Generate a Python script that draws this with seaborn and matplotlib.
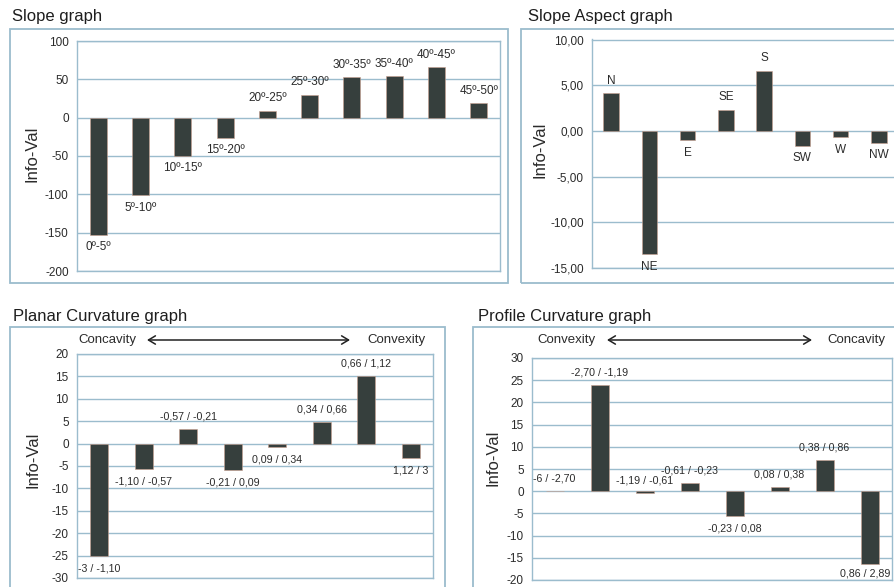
import seaborn as sns
import matplotlib.pyplot as plt
from matplotlib.patches import Rectangle

# Info-Val per class
slope_classes = ['0º-5º', '5º-10º', '10º-15º', '15º-20º', '20º-25º',
                 '25º-30º', '30º-35º', '35º-40º', '40º-45º', '45º-50º']
slope_infoval = [-153, -101, -50, -26, 9, 30, 53, 54, 66, 19]

aspect_classes = ['N', 'NE', 'E', 'SE', 'S', 'SW', 'W', 'NW']
aspect_infoval = [4.1, -13.5, -1.0, 2.3, 6.6, -1.6, -0.7, -1.3]

planar_classes = ['-3 / -1,10', '-1,10 / -0,57', '-0,57 / -0,21', '-0,21 / 0,09',
                  '0,09 / 0,34', '0,34 / 0,66', '0,66 / 1,12', '1,12 / 3']
planar_infoval = [-25, -5.7, 3.2, -6.0, -0.75, 4.8, 15.0, -3.2]

profile_classes = ['-6 / -2,70', '-2,70 / -1,19', '-1,19 / -0,61', '-0,61 / -0,23',
                   '-0,23 / 0,08', '0,08 / 0,38', '0,38 / 0,86', '0,86 / 2,89']
profile_infoval = [0, 23.9, -0.4, 1.9, -5.6, 1.0, 7.1, -16.3]
profile_label_up = [True, True, True, True, False, True, True, False]

W, H = 894, 587
BAR = '#363f3d'
GRID = '#9bbccd'
TXT = '#2b2b2b'

sns.set_style('white')
plt.rcParams['font.family'] = ['Liberation Sans', 'DejaVu Sans']
plt.rcParams['axes.unicode_minus'] = False

fig = plt.figure(figsize=(W / 100, H / 100), dpi=100)


def fx(x):
    return x / W


def fy(y):
    return 1 - y / H


def box(x0, y0, x1, y1):
    fig.add_artist(Rectangle((fx(x0), fy(y1)), fx(x1) - fx(x0), fy(y0) - fy(y1),
                             transform=fig.transFigure, fill=False, ec=GRID, lw=1.3))


def panel(left, top, right, bottom, classes, values, ylim, step, fmt,
          lab_size, up=None):
    ax = fig.add_axes([fx(left), fy(bottom), fx(right) - fx(left), fy(top) - fy(bottom)])
    sns.barplot(x=classes, y=values, color=BAR, width=0.4, saturation=1,
                edgecolor='#c9a08f', linewidth=0.4, ax=ax)
    ax.set_xlim(-0.5, len(classes) - 0.5)
    ax.set_ylim(*ylim)
    ticks = list(range(ylim[0], ylim[1] + 1, step))
    ax.set_yticks(ticks)
    ax.set_yticklabels([fmt(t) for t in ticks])
    ax.set_xticks([])
    ax.set_xlabel('')
    ax.set_ylabel('')
    ax.yaxis.grid(True, color=GRID, lw=1)
    ax.set_axisbelow(True)
    for s in ax.spines.values():
        s.set_color(GRID)
        s.set_linewidth(1)
    ax.tick_params(axis='y', length=4, color=GRID, labelsize=8.5,
                   labelcolor=TXT, pad=2)
    labels = []
    for i, (c, v) in enumerate(zip(classes, values)):
        above = (v >= 0) if up is None else up[i]
        labels.append(ax.annotate(c, xy=(i, v), xytext=(0, 9 if above else -9),
                                  textcoords='offset points', ha='center', va='center',
                                  fontsize=lab_size, color=TXT))
    return ax, labels


# outer frames
box(10, 29, 508, 283)
box(521, 29, 900, 283)
box(10, 327, 445, 600)
box(473, 327, 900, 600)

panel(77, 41, 500, 271, slope_classes, slope_infoval, (-200, 100), 50,
      lambda t: f'{t}', 8.5)
panel(592, 39.5, 898, 268, aspect_classes, aspect_infoval, (-15, 10), 5,
      lambda t: f'{t},00', 8.5)
panel(77, 354, 433, 578, planar_classes, planar_infoval, (-30, 20), 5,
      lambda t: f'{t}', 7.7)
_, prof_labels = panel(532, 358, 892, 580, profile_classes, profile_infoval, (-20, 30), 5,
                       lambda t: f'{t}', 7.7, up=profile_label_up)
# last label sits right at the image edge; nudge it inside
prof_labels[-1].xyann = (-3, -7)

# titles
for x, y, t in [(12, 17, 'Slope graph'), (528, 16, 'Slope Aspect graph'),
                (13, 316, 'Planar Curvature graph'), (478, 316, 'Profile Curvature graph')]:
    fig.text(fx(x), fy(y), t, ha='left', va='center', fontsize=12, color='#1e1e1e')

# y-axis labels
for x, y in [(32, 154), (540, 150), (33, 460), (493, 458)]:
    fig.text(fx(x), fy(y), 'Info-Val', rotation=90, ha='center', va='center',
             fontsize=12, color=TXT)

# concavity / convexity arrows
for l_txt, x_l, a0, a1, r_txt, x_r in [('Concavity', 78, 147, 350, 'Convexity', 367),
                                       ('Convexity', 537, 607, 812, 'Concavity', 827)]:
    fig.text(fx(x_l), fy(340), l_txt, ha='left', va='center', fontsize=9.5, color=TXT)
    fig.text(fx(x_r), fy(340), r_txt, ha='left', va='center', fontsize=9.5, color=TXT)
    fig.add_artist(plt.Annotation('', xy=(fx(a1), fy(340)), xytext=(fx(a0), fy(340)),
                                  xycoords='figure fraction', textcoords='figure fraction',
                                  arrowprops=dict(arrowstyle='<->,head_length=0.5,head_width=0.3',
                                                  color='#222222', lw=1.1,
                                                  shrinkA=0, shrinkB=0)))

fig.savefig('out.png', dpi=100)
